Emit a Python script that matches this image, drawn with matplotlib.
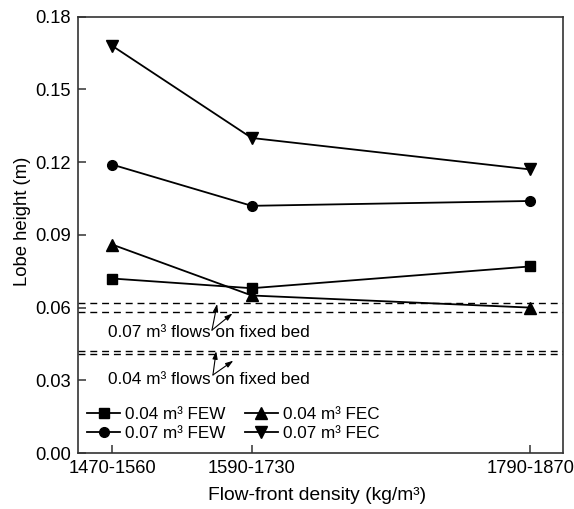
import matplotlib
matplotlib.use("Agg")
import matplotlib.pyplot as plt

plt.rcParams['font.family'] = ['Liberation Sans', 'DejaVu Sans']

# Flow-front density classes and their positions on the x axis
density_labels = ["1470-1560", "1590-1730", "1790-1870"]
density_pos = [1, 2, 4]

# Lobe heights (m)
few_004 = [0.072, 0.068, 0.077]
fec_004 = [0.086, 0.065, 0.060]
few_007 = [0.119, 0.102, 0.104]
fec_007 = [0.168, 0.130, 0.117]

# Lobe heights of flows on a fixed bed (pairs of reference lines)
fixed_007 = [0.062, 0.058]
fixed_004 = [0.042, 0.041]

y_ticks = [0.00, 0.03, 0.06, 0.09, 0.12, 0.15, 0.18]

fig = plt.figure(figsize=(5.74, 5.09), dpi=100)
ax = fig.add_axes([0.1354, 0.110, 0.8454, 0.857])

lw = 1.3
ax.plot(density_pos, few_004, color='black', lw=lw, marker='s', ms=6.5,
        label="0.04 m³ FEW")
ax.plot(density_pos, few_007, color='black', lw=lw, marker='o', ms=7,
        label="0.07 m³ FEW")
ax.plot(density_pos, fec_004, color='black', lw=lw, marker='^', ms=8,
        label="0.04 m³ FEC")
ax.plot(density_pos, fec_007, color='black', lw=lw, marker='v', ms=8,
        label="0.07 m³ FEC")

for y in fixed_007 + fixed_004:
    ax.axhline(y, color='black', lw=1.0, ls=(0, (5, 3.5)))

ax.text(0.971, 0.0497, "0.07 m³ flows on fixed bed", fontsize=12.4,
        va='center', ha='left')
ax.text(0.971, 0.0305, "0.04 m³ flows on fixed bed", fontsize=12.4,
        va='center', ha='left')

arrow_kw = dict(arrowstyle='-|>,head_length=0.45,head_width=0.15',
                color='black', lw=0.8, shrinkA=0, shrinkB=0)
ax.annotate("", xy=(1.752, fixed_007[0] - 0.0005), xytext=(1.715, 0.0507),
            arrowprops=arrow_kw)
ax.annotate("", xy=(1.862, 0.0576), xytext=(1.715, 0.0507),
            arrowprops=arrow_kw)
ax.annotate("", xy=(1.745, fixed_004[0]), xytext=(1.722, 0.0322),
            arrowprops=arrow_kw)
ax.annotate("", xy=(1.868, 0.0381), xytext=(1.722, 0.0322),
            arrowprops=arrow_kw)

ax.set_xlim(0.752, 4.233)
ax.set_ylim(0, 0.18)
ax.set_xticks(density_pos)
ax.set_xticklabels(density_labels)
ax.set_yticks(y_ticks)
ax.set_yticklabels([f"{v:.2f}" for v in y_ticks])
ax.tick_params(direction='in', length=6, width=1.1, labelsize=13.2,
               pad=5, color='#333333')
for s in ax.spines.values():
    s.set_linewidth(1.2)
    s.set_color('#333333')

ax.set_xlabel("Flow-front density (kg/m³)", fontsize=13.9)
ax.set_ylabel("Lobe height (m)", fontsize=13.3)
ax.xaxis.set_label_coords(0.494, -0.078)
ax.yaxis.set_label_coords(-0.096, 0.532)

ax.legend(ncol=2, frameon=False, fontsize=12.3, loc='lower left',
          bbox_to_anchor=(0.012, 0.02), borderaxespad=0, borderpad=0.2,
          handlelength=1.95, handletextpad=0.3, columnspacing=1.1,
          labelspacing=0.25)

fig.savefig("out.png", dpi=100)
